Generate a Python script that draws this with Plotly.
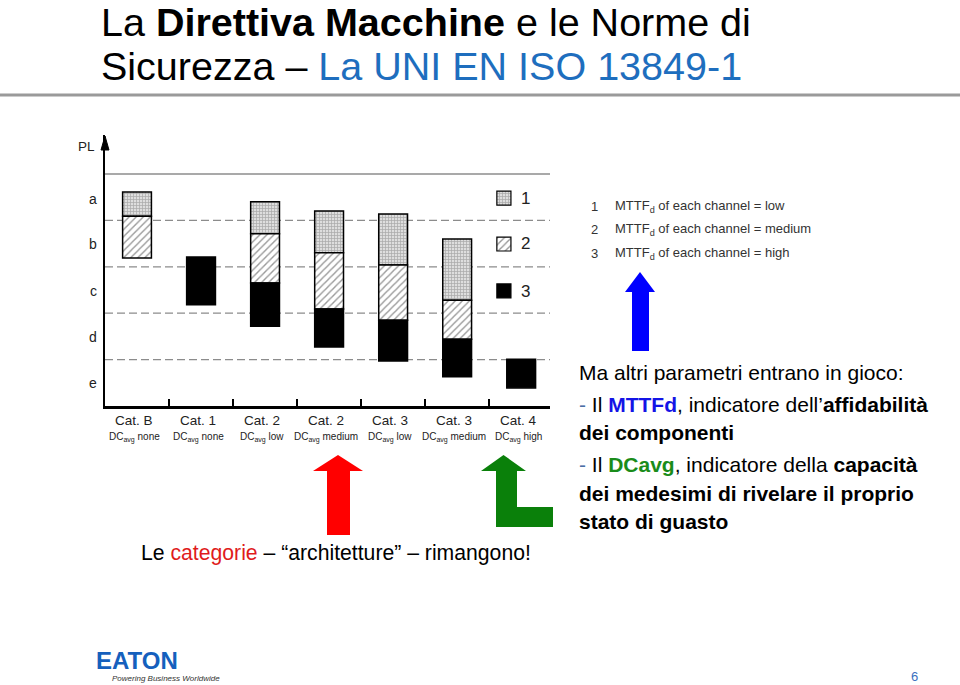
import plotly.graph_objects as go

# ---------------- data ----------------
categories = ["Cat. B", "Cat. 1", "Cat. 2", "Cat. 2", "Cat. 3", "Cat. 3", "Cat. 4"]
dc_levels = ["none", "none", "low", "medium", "low", "medium", "high"]
pl_levels = ["a", "b", "c", "d", "e"]   # top to bottom

# PL scale: 0 = bottom of "e", 5 = top of "a"
# MTTFd = low (1, stippled)
low_lo = [4.09, None, 3.71, 3.30, 3.04, 2.28, None]
low_hi = [4.61, None, 4.40, 4.20, 4.14, 3.60, None]
# MTTFd = medium (2, hatched)
med_lo = [3.19, None, 2.65, 2.09, 1.85, 1.44, None]
med_hi = [4.09, None, 3.71, 3.30, 3.04, 2.28, None]
# MTTFd = high (3, black)
high_lo = [None, 2.18, 1.72, 1.27, 0.97, 0.63, 0.39]
high_hi = [None, 3.21, 2.65, 2.09, 1.85, 1.44, 1.01]

legend_keys = ["1", "2", "3"]
legend_texts = ["MTTF<sub>d</sub> of each channel = low",
                "MTTF<sub>d</sub> of each channel = medium",
                "MTTF<sub>d</sub> of each channel = high"]

W, H = 960, 685
FONT = "Liberation Sans, Arial, Helvetica, sans-serif"


def px(x):
    return x / W


def py(y):
    return 1 - y / H


STIPPLE = dict(shape="+", size=3, solidity=0.4, fgcolor="#707070", bgcolor="#dedede")
HATCH = dict(shape="/", size=5, solidity=0.28, fgcolor="#333333", bgcolor="#ffffff")

fig = go.Figure()


def add_series(lo, hi, marker_extra):
    xs, ys, bs = [], [], []
    for i, (a, b) in enumerate(zip(lo, hi)):
        if a is None:
            continue
        xs.append(i)
        ys.append(b - a)
        bs.append(a)
    fig.add_trace(go.Bar(x=xs, y=ys, base=bs, width=0.45, showlegend=False,
                         hoverinfo="skip",
                         marker=dict(line=dict(color="black", width=1.5), **marker_extra)))


add_series(low_lo, low_hi, dict(color="#dedede", pattern=STIPPLE))
add_series(med_lo, med_hi, dict(color="white", pattern=HATCH))
add_series(high_lo, high_hi, dict(color="black"))

# legend boxes (inside chart) as small bars
leg_x = 5.73
leg_centers = [4.48, 3.49, 2.48]
leg_h = 0.30
for c, m in zip(leg_centers, [dict(color="#dedede", pattern=STIPPLE),
                              dict(color="white", pattern=HATCH),
                              dict(color="black")]):
    fig.add_trace(go.Bar(x=[leg_x], y=[leg_h], base=[c - leg_h / 2], width=0.22,
                         showlegend=False, hoverinfo="skip",
                         marker=dict(line=dict(color="black", width=1.2), **m)))

shapes = []
# horizontal PL boundaries
for lvl in [5, 4, 3, 2, 1]:
    shapes.append(dict(type="line", xref="x", yref="y", x0=-0.5, x1=6.45, y0=lvl, y1=lvl,
                       layer="below",
                       line=dict(color="#8c8c8c", width=1.6 if lvl == 5 else 1.3,
                                 dash="solid" if lvl == 5 else "8px,4px")))
# y axis arrow head
shapes.append(dict(type="path", xref="paper", yref="paper",
                   path=f"M {px(105)},{py(136)} L {px(101)},{py(150)} L {px(109)},{py(150)} Z",
                   fillcolor="black", line=dict(color="black", width=1)))
# title separator
shapes.append(dict(type="line", xref="paper", yref="paper", x0=0, x1=1, y0=py(95), y1=py(95),
                   line=dict(color="#9a9a9a", width=3)))


def arrow_path(pts):
    s = "M " + " L ".join(f"{px(x)},{py(y)}" for x, y in pts) + " Z"
    return s


# red arrow
shapes.append(dict(type="path", xref="paper", yref="paper",
                   path=arrow_path([(327, 535), (327, 471), (313, 471), (338, 455), (363, 471),
                                    (350, 471), (350, 535)]),
                   fillcolor="#ff0000", line=dict(width=0)))
# green arrow
shapes.append(dict(type="path", xref="paper", yref="paper",
                   path=arrow_path([(496, 527), (496, 471), (481, 471), (503.5, 455), (526, 471),
                                    (517, 471), (517, 507), (553, 507), (553, 527)]),
                   fillcolor="#0a800a", line=dict(width=0)))
# blue arrow
shapes.append(dict(type="path", xref="paper", yref="paper",
                   path=arrow_path([(632, 351), (632, 292), (625, 292), (640, 272), (655, 292),
                                    (649, 292), (649, 351)]),
                   fillcolor="#0000ff", line=dict(width=0)))

ann = []


def text(x, y, t, size, color="black", anchor="left", family=FONT):
    ann.append(dict(x=px(x), y=py(y), xref="paper", yref="paper", text=t, showarrow=False,
                    xanchor=anchor, yanchor="middle",
                    font=dict(size=size, color=color, family=family)))


# title
text(99, 22, "La <b>Direttiva Macchine</b> e le Norme di", 39.5)
text(99, 66, "Sicurezza – <span style='color:#1e6ebe'>La UNI EN ISO 13849-1</span>", 39.5)

# axis labels
text(86, 147, "PL", 13.5, "#222", anchor="center")
for lab, yy in zip(pl_levels, [199, 244, 291, 337, 383]):
    text(93, yy, lab, 14, "#222", anchor="center")

# category labels
for i, (c, d) in enumerate(zip(categories, dc_levels)):
    cx = 105 + (i + 0.5) * 64.03 - 3
    text(cx, 420, c, 13.5, "#222", anchor="center")
    text(cx, 437, f"DC<sub>avg</sub> {d}", 10, "#222", anchor="center")

# legend numbers inside chart
for k, yy in zip(legend_keys, [198, 244, 291]):
    text(519, yy, k, 17, "#222")

# right legend text
for k, t, yy in zip(legend_keys, legend_texts, [206, 229, 253]):
    text(589, yy, k, 13, "#333")
    text(613, yy, t, 13, "#333")

# bottom caption
text(139, 553, "Le <span style='color:#e01b1b'>categorie</span> – “architetture” – rimangono!", 21.2)

# right explanatory text
dash = "<span style='color:#4a6fa5'>- </span>"
FS = 21
text(577, 372, "Ma altri parametri entrano in gioco:", FS)
text(577, 404, dash + "Il <b><span style='color:#1414e6'>MTTFd</span></b>, indicatore dell’<b>affidabilità</b>", FS)
text(577, 432, "<b>dei componenti</b>", FS)
text(577, 465, dash + "Il <b><span style='color:#1a8c1a'>DCavg</span></b>, indicatore della <b>capacità</b>", FS)
text(577, 493, "<b>dei medesimi di rivelare il proprio</b>", FS)
text(577, 521, "<b>stato di guasto</b>", FS)

# logo + page number
text(94, 660, "<b>EATON</b>", 24, "#1560bd")
text(110, 678, "<i>Powering Business Worldwide</i>", 8, "#333")
text(914, 676, "6", 13, "#3a6fc0", anchor="center")

fig.update_layout(
    width=W, height=H,
    margin=dict(l=0, r=0, t=0, b=0),
    paper_bgcolor="white", plot_bgcolor="white",
    barmode="overlay",
    shapes=shapes, annotations=ann,
    xaxis=dict(domain=[105 / W, 550 / W], range=[-0.5, 6.45], showgrid=False, zeroline=False,
               showline=True, linecolor="black", linewidth=2.5,
               tickmode="array", tickvals=[0.5, 1.5, 2.5, 3.5, 4.5, 5.5], ticks="inside",
               ticklen=7, tickwidth=1.5, tickcolor="black", showticklabels=False, fixedrange=True),
    yaxis=dict(domain=[1 - 406 / H, 1 - 135 / H], range=[0, 5.84], showgrid=False, zeroline=False,
               showline=True, linecolor="black", linewidth=2, ticks="", showticklabels=False,
               fixedrange=True),
    font=dict(family=FONT),
)

fig.write_html("out.html")
